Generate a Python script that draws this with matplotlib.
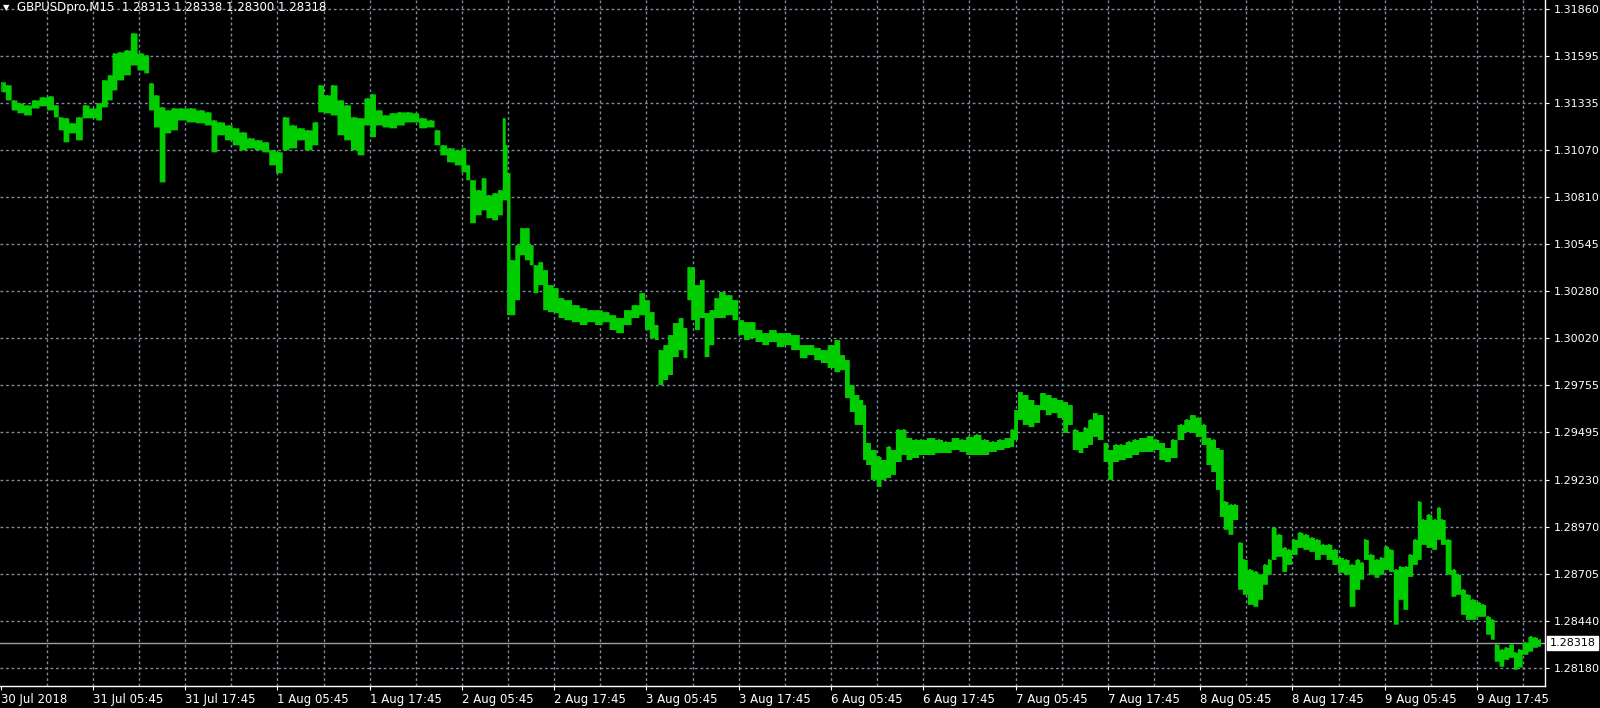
import numpy as np
import matplotlib
matplotlib.use("Agg")
import matplotlib.pyplot as plt

# GBPUSD M15, bar index counted from 30 Jul 17:45 (server time, weekend skipped)
bar_idx = [1, 4, 7, 10, 14, 18, 22, 26, 29, 31, 34, 37, 41, 44, 48, 51, 54, 57, 59, 62,
           66, 69, 73, 76, 78, 81, 84, 87, 90, 94, 99, 104, 108, 111, 114, 119, 122, 126, 130, 134,
           138, 141, 145, 148, 152, 156, 160, 164, 166, 170, 173, 177, 180, 184, 187, 191, 193, 197, 200, 204,
           208, 212, 216, 219, 224, 227, 230, 234, 238, 241, 243, 245, 249, 251, 254, 257, 260, 262, 263, 264,
           266, 269, 271, 274, 276, 278, 281, 283, 286, 289, 291, 295, 299, 303, 307, 311, 315, 318, 322, 326,
           330, 334, 336, 339, 341, 343, 346, 348, 351, 354, 356, 358, 360, 362, 365, 367, 370, 372, 375, 379,
           382, 385, 388, 391, 394, 398, 401, 406, 409, 413, 418, 421, 425, 428, 432, 435, 438, 440, 443, 445,
           448, 449, 451, 454, 457, 459, 462, 464, 467, 470, 472, 476, 479, 484, 488, 492, 497, 500, 504, 508,
           512, 516, 520, 524, 526, 528, 530, 533, 536, 539, 542, 545, 548, 551, 554, 556, 559, 562, 564, 567,
           569, 572, 575, 577, 580, 583, 587, 590, 594, 598, 601, 604, 607, 610, 614, 617, 620, 623, 626, 628,
           631, 633, 635, 637, 640, 642, 645, 647, 650, 653, 655, 658, 660, 662, 665, 668, 670, 673, 676, 679,
           682, 685, 688, 691, 694, 697, 700, 703, 706, 708, 710, 713, 716, 718, 721, 723, 726, 728, 731, 733,
           736, 738, 740, 743, 746, 748, 750, 753, 756, 758, 761, 763, 766, 769, 771, 774, 776, 778, 781, 783,
           786, 788, 790, 793, 796, 798, 801]

high = [1.31453, 1.31436, 1.31352, 1.31335, 1.31324, 1.31352, 1.31369, 1.31374, 1.31324, 1.31257,
        1.31252, 1.31224, 1.31257, 1.31324, 1.31307, 1.31335, 1.31464, 1.31492, 1.31614, 1.31620,
        1.31631, 1.31726, 1.31614, 1.31603, 1.31447, 1.31380, 1.31313, 1.31296, 1.31307, 1.31307,
        1.31307, 1.31296, 1.31285, 1.31240, 1.31229, 1.31212, 1.31196, 1.31173, 1.31140, 1.31129,
        1.31118, 1.31073, 1.31062, 1.31257, 1.31212, 1.31196, 1.31185, 1.31229, 1.31436, 1.31380,
        1.31436, 1.31352, 1.31324, 1.31257, 1.31252, 1.31363, 1.31386, 1.31296, 1.31268, 1.31280,
        1.31285, 1.31285, 1.31280, 1.31252, 1.31240, 1.31185, 1.31101, 1.31084, 1.31073, 1.31084,
        1.30989, 1.30906, 1.30850, 1.30917, 1.30822, 1.30833, 1.30850, 1.31252, 1.31101, 1.30945,
        1.30459, 1.30543, 1.30638, 1.30638, 1.30543, 1.30431, 1.30448, 1.30403, 1.30320, 1.30303,
        1.30247, 1.30236, 1.30208, 1.30191, 1.30180, 1.30180, 1.30169, 1.30152, 1.30136, 1.30180,
        1.30208, 1.30275, 1.30236, 1.30169, 1.30097, 1.29957, 1.29985, 1.30041, 1.30108, 1.30136,
        1.30080, 1.30420, 1.30420, 1.30320, 1.30348, 1.30164, 1.30180, 1.30247, 1.30281, 1.30264,
        1.30236, 1.30124, 1.30113, 1.30113, 1.30069, 1.30052, 1.30069, 1.30052, 1.30052, 1.30041,
        1.29985, 1.29985, 1.29968, 1.29957, 1.29985, 1.30013, 1.29929, 1.29901, 1.29762, 1.29706,
        1.29678, 1.29650, 1.29438, 1.29399, 1.29360, 1.29343, 1.29416, 1.29399, 1.29511, 1.29511,
        1.29466, 1.29455, 1.29455, 1.29466, 1.29455, 1.29444, 1.29466, 1.29455, 1.29472, 1.29483,
        1.29455, 1.29444, 1.29455, 1.29466, 1.29511, 1.29622, 1.29723, 1.29706, 1.29678, 1.29650,
        1.29717, 1.29706, 1.29689, 1.29678, 1.29667, 1.29650, 1.29511, 1.29499, 1.29522, 1.29567,
        1.29605, 1.29594, 1.29438, 1.29399, 1.29427, 1.29427, 1.29444, 1.29455, 1.29466, 1.29477,
        1.29455, 1.29438, 1.29410, 1.29455, 1.29539, 1.29567, 1.29594, 1.29578, 1.29539, 1.29466,
        1.29455, 1.29410, 1.29399, 1.29109, 1.29092, 1.29092, 1.28880, 1.28785, 1.28729, 1.28718,
        1.28702, 1.28757, 1.28785, 1.28964, 1.28925, 1.28852, 1.28841, 1.28897, 1.28936, 1.28925,
        1.28908, 1.28897, 1.28869, 1.28869, 1.28841, 1.28796, 1.28785, 1.28757, 1.28785, 1.28769,
        1.28897, 1.28813, 1.28785, 1.28796, 1.28858, 1.28841, 1.28729, 1.28746, 1.28746, 1.28813,
        1.28897, 1.29109, 1.29008, 1.29036, 1.29008, 1.29075, 1.29008, 1.28897, 1.28729, 1.28702,
        1.28618, 1.28590, 1.28562, 1.28545, 1.28534, 1.28467, 1.28450, 1.28311, 1.28283, 1.28294,
        1.28311, 1.28266, 1.28283, 1.28322, 1.28355, 1.28350, 1.28338]

low = [1.31397, 1.31352, 1.31296, 1.31280, 1.31268, 1.31307, 1.31319, 1.31296, 1.31257, 1.31185,
       1.31118, 1.31168, 1.31129, 1.31252, 1.31252, 1.31240, 1.31313, 1.31352, 1.31408, 1.31464,
       1.31492, 1.31547, 1.31519, 1.31503, 1.31296, 1.31201, 1.30894, 1.31168, 1.31185, 1.31240,
       1.31229, 1.31224, 1.31212, 1.31062, 1.31157, 1.31129, 1.31101, 1.31073, 1.31084, 1.31073,
       1.31062, 1.30989, 1.30945, 1.31073, 1.31084, 1.31129, 1.31073, 1.31101, 1.31285, 1.31280,
       1.31268, 1.31157, 1.31129, 1.31073, 1.31045, 1.31212, 1.31146, 1.31212, 1.31201, 1.31196,
       1.31212, 1.31229, 1.31229, 1.31196, 1.31201, 1.31101, 1.31045, 1.31006, 1.30989, 1.30950,
       1.30906, 1.30666, 1.30710, 1.30738, 1.30694, 1.30682, 1.30710, 1.30794, 1.30794, 1.30152,
       1.30152, 1.30236, 1.30487, 1.30459, 1.30431, 1.30275, 1.30320, 1.30180, 1.30169, 1.30164,
       1.30136, 1.30124, 1.30113, 1.30097, 1.30113, 1.30097, 1.30113, 1.30069, 1.30052, 1.30097,
       1.30136, 1.30152, 1.30069, 1.30024, 1.30013, 1.29762, 1.29790, 1.29818, 1.29918, 1.29957,
       1.29912, 1.30236, 1.30124, 1.30069, 1.30136, 1.29918, 1.29985, 1.30136, 1.30136, 1.30152,
       1.30124, 1.30041, 1.30013, 1.30024, 1.30002, 1.29985, 1.30002, 1.29974, 1.29985, 1.29957,
       1.29912, 1.29929, 1.29901, 1.29885, 1.29857, 1.29834, 1.29845, 1.29689, 1.29611, 1.29539,
       1.29539, 1.29343, 1.29315, 1.29232, 1.29193, 1.29232, 1.29243, 1.29260, 1.29332, 1.29371,
       1.29343, 1.29354, 1.29371, 1.29371, 1.29382, 1.29382, 1.29399, 1.29388, 1.29371, 1.29371,
       1.29371, 1.29388, 1.29399, 1.29410, 1.29416, 1.29455, 1.29567, 1.29539, 1.29527, 1.29550,
       1.29622, 1.29594, 1.29605, 1.29578, 1.29494, 1.29539, 1.29399, 1.29382, 1.29410, 1.29427,
       1.29472, 1.29455, 1.29332, 1.29232, 1.29332, 1.29343, 1.29354, 1.29371, 1.29388, 1.29388,
       1.29399, 1.29343, 1.29332, 1.29354, 1.29455, 1.29499, 1.29494, 1.29472, 1.29427, 1.29315,
       1.29276, 1.29176, 1.29025, 1.28953, 1.28925, 1.29008, 1.28618, 1.28590, 1.28534, 1.28523,
       1.28562, 1.28646, 1.28702, 1.28785, 1.28802, 1.28718, 1.28757, 1.28813, 1.28852, 1.28841,
       1.28830, 1.28785, 1.28813, 1.28785, 1.28757, 1.28713, 1.28702, 1.28523, 1.28618, 1.28674,
       1.28785, 1.28702, 1.28685, 1.28702, 1.28729, 1.28718, 1.28423, 1.28562, 1.28506, 1.28690,
       1.28757, 1.28785, 1.28869, 1.28852, 1.28841, 1.28897, 1.28869, 1.28702, 1.28579, 1.28590,
       1.28478, 1.28450, 1.28450, 1.28467, 1.28467, 1.28367, 1.28339, 1.28216, 1.28188, 1.28227,
       1.28238, 1.28171, 1.28183, 1.28255, 1.28272, 1.28294, 1.28300]

price_ticks = [1.31860, 1.31595, 1.31335, 1.31070, 1.30810, 1.30545, 1.30280, 1.30020,
               1.29755, 1.29495, 1.29230, 1.28970, 1.28705, 1.28440, 1.28180]
time_labels = ["30 Jul 2018", "31 Jul 05:45", "31 Jul 17:45", "1 Aug 05:45", "1 Aug 17:45",
               "2 Aug 05:45", "2 Aug 17:45", "3 Aug 05:45", "3 Aug 17:45", "6 Aug 05:45",
               "6 Aug 17:45", "7 Aug 05:45", "7 Aug 17:45", "8 Aug 05:45", "8 Aug 17:45",
               "9 Aug 05:45", "9 Aug 17:45"]
bars_per_label = 48
last_price = 1.28318
header = "GBPUSDpro,M15  1.28313 1.28338 1.28300 1.28318"

bar_col = "#00cc00"
grid_col = "#7d8b9b"
fg = "white"

fig = plt.figure(figsize=(16, 7.08), dpi=100, facecolor="black")
ax = fig.add_axes([0.0, 22 / 708, 1545 / 1600, 686 / 708], facecolor="black")

x = np.array(bar_idx)
hi = np.array(high)
lo = np.array(low)
ax.fill_between(x, lo, hi, step="mid", color=bar_col, linewidth=0, zorder=3)
ax.vlines(x, lo, hi, color=bar_col, linewidth=1.2, zorder=3)

# y scale: evenly spaced levels, labels as printed by the terminal
ytick_pos = np.linspace(price_ticks[0], price_ticks[-1], len(price_ticks))
step = ytick_pos[0] - ytick_pos[1]
ax.set_ylim(ytick_pos[-1] - step * 18.3 / 47.05, ytick_pos[0] + step * 9 / 47.05)
ax.set_xlim(-0.3, 803.4)

ax.set_yticks(ytick_pos)
ax.set_yticklabels([f"{v:.5f}" for v in price_ticks])
ax.yaxis.tick_right()
xt = [i * bars_per_label for i in range(len(time_labels))]
ax.set_xticks(xt)
ax.set_xticklabels(time_labels, ha="left")
ax.tick_params(axis="x", colors=fg, labelcolor=fg, labelsize=8.5, length=3, width=0.8, pad=2)
ax.tick_params(axis="y", colors=fg, labelcolor=fg, labelsize=8, length=3, width=0.8, pad=3)

# dashed grid: horizontal at price levels, vertical every 6 hours
for yv in ytick_pos:
    ax.axhline(yv, color=grid_col, lw=1.0, ls=(0, (2, 2)), zorder=1)
for xv in range(24, 804, 24):
    ax.axvline(xv, color=grid_col, lw=1.0, ls=(0, (2, 2)), zorder=1)

for side in ["top", "left"]:
    ax.spines[side].set_visible(False)
for side in ["right", "bottom"]:
    ax.spines[side].set_color(fg)
    ax.spines[side].set_linewidth(1)

# current price line and marker
ax.axhline(last_price, color="#a0a0a0", lw=1, zorder=2)
ax.text(1.003, last_price, f"{last_price:.5f}", transform=ax.get_yaxis_transform(),
        ha="left", va="center", fontsize=8, color="black", zorder=10, clip_on=False,
        bbox=dict(boxstyle="square,pad=0.2", fc="white", ec="white"))

# header
fig.text(3 / 1600, 1 - 8 / 708, "\u25bc", color=fg, fontsize=6, va="center", ha="left")
fig.text(17 / 1600, 1 - 8 / 708, header, color=fg, fontsize=8.5, va="center", ha="left")

fig.savefig("out.png", dpi=100, facecolor="black")
